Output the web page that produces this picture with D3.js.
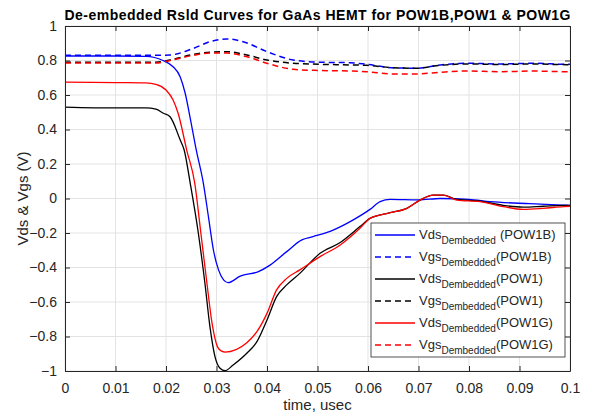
<!DOCTYPE html>
<html>
<head>
<meta charset="utf-8">
<script src="https://cdn.jsdelivr.net/npm/d3@7"></script>
<style>
body { margin: 0; background: #fff; }
text { font-family: "Liberation Sans", Arial, sans-serif; }
</style>
</head>
<body>
<div id="chart-area"></div>
<script>
// data (time in usec, volts)
var tVdsB = [0, 0.01, 0.016, 0.0194, 0.0214, 0.0228, 0.0238, 0.0248, 0.026, 0.0274, 0.0284, 0.0294, 0.0304, 0.0314, 0.0323, 0.0347, 0.0383, 0.0406, 0.0439, 0.0469, 0.0491, 0.0525, 0.057, 0.0604, 0.0624, 0.0644, 0.07, 0.0743, 0.08, 0.0842, 0.092, 0.0986, 0.1];
var vdsB = [0.826, 0.826, 0.824, 0.80, 0.764, 0.706, 0.61, 0.465, 0.28, 0.088, -0.105, -0.30, -0.414, -0.472, -0.488, -0.45, -0.424, -0.386, -0.308, -0.24, -0.221, -0.19, -0.125, -0.063, -0.018, -0.005, -0.008, 0, -0.005, -0.018, -0.03, -0.038, -0.04];

var tVgsB = [0, 0.018, 0.0208, 0.0254, 0.0287, 0.032, 0.0353, 0.04, 0.0452, 0.0505, 0.0564, 0.0597, 0.065, 0.0696, 0.0743, 0.0795, 0.0861, 0.0927, 0.0993, 0.1];
var vgsB = [0.83, 0.83, 0.832, 0.87, 0.909, 0.925, 0.909, 0.851, 0.803, 0.79, 0.787, 0.778, 0.758, 0.755, 0.774, 0.784, 0.78, 0.784, 0.778, 0.778];

var tVds1 = [0, 0.01, 0.016, 0.018, 0.0195, 0.0208, 0.0228, 0.0236, 0.0248, 0.0264, 0.0277, 0.0287, 0.0297, 0.0307, 0.0317, 0.0333, 0.036, 0.038, 0.04, 0.0419, 0.0439, 0.0465, 0.0505, 0.0545, 0.0584, 0.0604, 0.0644, 0.0677, 0.0703, 0.0729, 0.0749, 0.0776, 0.0822, 0.0868, 0.0907, 0.0947, 0.0987, 0.1];
var vds1 = [0.53, 0.525, 0.525, 0.518, 0.494, 0.474, 0.34, 0.281, 0.088, -0.2, -0.49, -0.743, -0.917, -0.984, -0.998, -0.965, -0.897, -0.83, -0.704, -0.569, -0.501, -0.434, -0.318, -0.255, -0.163, -0.115, -0.082, -0.057, -0.009, 0.02, 0.02, -0.005, -0.015, -0.04, -0.05, -0.045, -0.04, -0.04];

var tVgs1 = [0, 0.018, 0.0208, 0.0254, 0.0287, 0.032, 0.036, 0.04, 0.0452, 0.0505, 0.057, 0.0597, 0.065, 0.0696, 0.0743, 0.0795, 0.0861, 0.0927, 0.0993, 0.1];
var vgs1 = [0.79, 0.79, 0.803, 0.835, 0.848, 0.851, 0.832, 0.803, 0.784, 0.778, 0.774, 0.772, 0.758, 0.755, 0.772, 0.78, 0.777, 0.78, 0.776, 0.776];

var tVdsG = [0, 0.01, 0.016, 0.018, 0.02, 0.0214, 0.0224, 0.0241, 0.0257, 0.0269, 0.0281, 0.0291, 0.0302, 0.031, 0.0317, 0.036, 0.038, 0.04, 0.0419, 0.0439, 0.0465, 0.0505, 0.0545, 0.0584, 0.0604, 0.0644, 0.0677, 0.0703, 0.0729, 0.0749, 0.0776, 0.0822, 0.0868, 0.0907, 0.0947, 0.0987, 0.1];
var vdsG = [0.675, 0.672, 0.67, 0.662, 0.629, 0.571, 0.494, 0.281, 0.088, -0.2, -0.49, -0.72, -0.86, -0.885, -0.89, -0.836, -0.772, -0.666, -0.53, -0.463, -0.414, -0.337, -0.27, -0.173, -0.115, -0.082, -0.057, -0.009, 0.02, 0.02, -0.009, -0.018, -0.047, -0.063, -0.057, -0.047, -0.045];

var tVgsG = [0, 0.018, 0.0208, 0.0254, 0.0287, 0.032, 0.036, 0.04, 0.0452, 0.0505, 0.057, 0.0597, 0.065, 0.0696, 0.0743, 0.0795, 0.0861, 0.0927, 0.0993, 0.1];
var vgsG = [0.785, 0.785, 0.80, 0.83, 0.843, 0.843, 0.822, 0.784, 0.749, 0.742, 0.739, 0.735, 0.722, 0.722, 0.732, 0.739, 0.735, 0.739, 0.735, 0.735];

var legendNames = ["(POW1B)", "(POW1B)", "(POW1)", "(POW1)", "(POW1G)", "(POW1G)"];
var legendPrefix = ["Vds", "Vgs", "Vds", "Vgs", "Vds", "Vgs"];
var xTicks = [0, 0.01, 0.02, 0.03, 0.04, 0.05, 0.06, 0.07, 0.08, 0.09, 0.1];
var yTicks = [-1, -0.8, -0.6, -0.4, -0.2, 0, 0.2, 0.4, 0.6, 0.8, 1];

var series = [
    { t: tVdsB, v: vdsB, color: "#0000ff", dash: null },
    { t: tVgsB, v: vgsB, color: "#0000ff", dash: "6,4" },
    { t: tVds1, v: vds1, color: "#000000", dash: null },
    { t: tVgs1, v: vgs1, color: "#000000", dash: "6,4" },
    { t: tVdsG, v: vdsG, color: "#ff0000", dash: null },
    { t: tVgsG, v: vgsG, color: "#ff0000", dash: "6,4" }
];

var chartWidth = 592, chartHeight = 417;
var margin = { top: 26, right: 22, bottom: 46, left: 65 };
var width = chartWidth - margin.left - margin.right,
    height = chartHeight - margin.top - margin.bottom;

var root = d3.select("#chart-area").append("svg")
    .attr("width", chartWidth)
    .attr("height", chartHeight);

var svg = root.append("g")
    .attr("transform", "translate(" + margin.left + "," + margin.top + ")");

// scales
var x = d3.scaleLinear().domain([0, 0.1]).range([0, width]);
var y = d3.scaleLinear().domain([-1, 1]).range([height, 0]);

// grid
svg.append("g").selectAll("line").data(xTicks).enter().append("line")
    .attr("x1", d => x(d)).attr("x2", d => x(d))
    .attr("y1", 0).attr("y2", height)
    .attr("stroke", "#e3e3e3");
svg.append("g").selectAll("line").data(yTicks).enter().append("line")
    .attr("y1", d => y(d)).attr("y2", d => y(d))
    .attr("x1", 0).attr("x2", width)
    .attr("stroke", "#e3e3e3");

// lines
var line = d3.line()
    .curve(d3.curveMonotoneX)
    .x(d => x(d[0]))
    .y(d => y(d[1]));

series.forEach(function(s) {
    var pts = s.t.map((t, i) => [t, s.v[i]]);
    svg.append("path")
        .datum(pts)
        .attr("fill", "none")
        .attr("stroke", s.color)
        .attr("stroke-width", s.dash ? 1.5 : 1.3)
        .attr("stroke-dasharray", s.dash)
        .attr("d", line);
});

// axes (inward ticks on all four sides, matlab style)
var axisColor = "#262626";
function styleAxis(g) {
    g.select(".domain").attr("stroke", axisColor);
    g.selectAll(".tick line").attr("stroke", axisColor);
    g.selectAll(".tick text").attr("fill", axisColor)
        .style("font-size", "14px")
        .style("font-family", "'Liberation Sans', Arial, sans-serif");
}
svg.append("g")
    .attr("transform", "translate(0," + height + ")")
    .call(d3.axisBottom(x).tickValues(xTicks).tickSize(-5).tickPadding(12).tickSizeOuter(0)
        .tickFormat(d => d === 0 ? "0" : d3.format("")(+d.toFixed(2))))
    .call(styleAxis);
svg.append("g")
    .call(d3.axisTop(x).tickValues(xTicks).tickSize(-5).tickSizeOuter(0).tickFormat(""))
    .call(styleAxis);
svg.append("g")
    .call(d3.axisLeft(y).tickValues(yTicks).tickSize(-5).tickPadding(8).tickSizeOuter(0)
        .tickFormat(d => d3.format("")(+d.toFixed(1))))
    .call(styleAxis);
svg.append("g")
    .attr("transform", "translate(" + width + ",0)")
    .call(d3.axisRight(y).tickValues(yTicks).tickSize(-5).tickSizeOuter(0).tickFormat(""))
    .call(styleAxis);

// title and labels
root.append("text")
    .attr("x", margin.left + width / 2)
    .attr("y", 20)
    .attr("text-anchor", "middle")
    .attr("textLength", 506)
    .attr("lengthAdjust", "spacing")
    .style("font-size", "14px")
    .style("font-weight", "bold")
    .text("De-embedded Rsld Curves for GaAs HEMT for POW1B,POW1 & POW1G");

root.append("text")
    .attr("x", margin.left + width / 2)
    .attr("y", 410)
    .attr("text-anchor", "middle")
    .attr("fill", axisColor)
    .style("font-size", "15px")
    .text("time, usec");

root.append("text")
    .attr("transform", "translate(28," + (margin.top + height / 2) + ") rotate(-90)")
    .attr("text-anchor", "middle")
    .attr("fill", axisColor)
    .style("font-size", "15px")
    .text("Vds & Vgs (V)");

// legend
var legend = root.append("g").attr("transform", "translate(371,223)");
legend.append("rect")
    .attr("width", 194).attr("height", 134)
    .attr("fill", "#fff")
    .attr("stroke", axisColor)
    .attr("stroke-width", 0.8);

series.forEach(function(s, i) {
    var row = legend.append("g").attr("transform", "translate(0," + (12 + i * 22) + ")");
    row.append("line")
        .attr("x1", 4).attr("x2", 44)
        .attr("stroke", s.color)
        .attr("stroke-width", s.dash ? 1.5 : 1.3)
        .attr("stroke-dasharray", s.dash);
    var txt = row.append("text")
        .attr("x", 48).attr("y", 4)
        .attr("fill", axisColor)
        .style("font-size", "13px");
    txt.append("tspan").text(legendPrefix[i]);
    txt.append("tspan").attr("dy", 5).style("font-size", "10px").text("Dembedded");
    txt.append("tspan").attr("dy", -5).attr("dx", i === 0 ? 4 : 0).text(legendNames[i]);
});
</script>
</body>
</html>
